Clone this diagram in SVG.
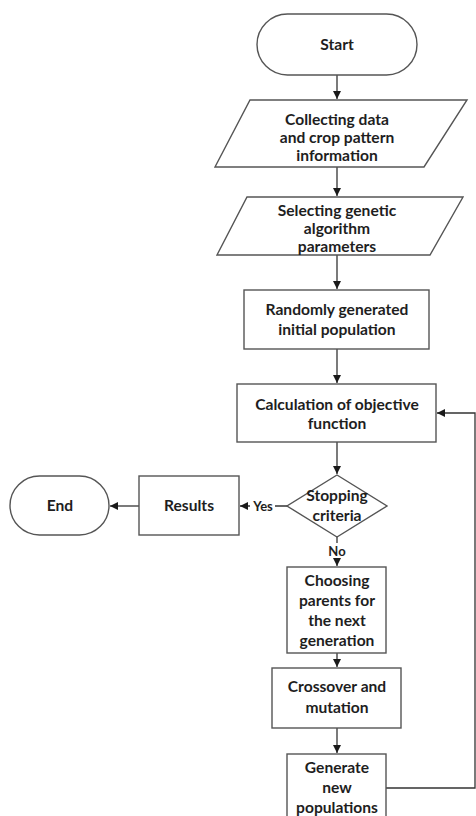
<svg xmlns="http://www.w3.org/2000/svg" width="476" height="816" viewBox="0 0 476 816">
<defs>
<marker id="ah" viewBox="0 0 10 10" refX="10" refY="5" markerWidth="8" markerHeight="8" markerUnits="userSpaceOnUse" orient="auto">
<path d="M0,0 L10,5 L0,10 z" fill="#1a1a1a"/>
</marker>
<style>
.s{fill:#fff;stroke:#555;stroke-width:1.4}
.t{font-family:Lato,"Open Sans","Liberation Sans",sans-serif;font-weight:bold;font-size:15.6px;fill:#1e1e1e;text-anchor:middle}
.l{font-family:Lato,"Open Sans","Liberation Sans",sans-serif;font-weight:bold;font-size:13px;fill:#1e1e1e;text-anchor:middle}
.c{fill:none;stroke:#333;stroke-width:1.3}
</style>
</defs>
<rect width="476" height="816" fill="#fff"/>
<g id="connectors">
<line class="c" x1="337" y1="75" x2="337" y2="99" marker-end="url(#ah)"/>
<line class="c" x1="337" y1="167" x2="337" y2="196" marker-end="url(#ah)"/>
<line class="c" x1="337" y1="255" x2="337" y2="289" marker-end="url(#ah)"/>
<line class="c" x1="337" y1="349" x2="337" y2="383" marker-end="url(#ah)"/>
<line class="c" x1="337" y1="442" x2="337" y2="474" marker-end="url(#ah)"/>
<line class="c" x1="287" y1="506" x2="240" y2="506" marker-end="url(#ah)"/>
<line class="c" x1="139" y1="506" x2="110" y2="506" marker-end="url(#ah)"/>
<line class="c" x1="337" y1="537" x2="337" y2="566" marker-end="url(#ah)"/>
<line class="c" x1="337" y1="653" x2="337" y2="667" marker-end="url(#ah)"/>
<line class="c" x1="337" y1="728" x2="337" y2="753" marker-end="url(#ah)"/>
<polyline class="c" points="386,788 475,788 475,413 437,413" marker-end="url(#ah)"/>
<rect x="250" y="498" width="25" height="15" fill="#fff"/>
<text class="l" x="263" y="511">Yes</text>
<rect x="326" y="543" width="22" height="15" fill="#fff"/>
<text class="l" x="337" y="556">No</text>
</g>
<g id="start">
<rect class="s" x="257" y="14" width="160" height="61" rx="30.5"/>
<text class="t" x="337" y="50">Start</text>
</g>
<g id="collect">
<polygon class="s" points="250,100 467,100 424,167 215,167"/>
<text class="t" x="337" y="125">Collecting data</text>
<text class="t" x="337" y="143">and crop pattern</text>
<text class="t" x="337" y="161">information</text>
</g>
<g id="select">
<polygon class="s" points="247,197 463,197 430,255 217,255"/>
<text class="t" x="337" y="216">Selecting genetic</text>
<text class="t" x="337" y="234">algorithm</text>
<text class="t" x="337" y="252">parameters</text>
</g>
<g id="random">
<rect class="s" x="244" y="290" width="185" height="59"/>
<text class="t" x="337" y="315">Randomly generated</text>
<text class="t" x="337" y="335">initial population</text>
</g>
<g id="calc">
<rect class="s" x="237" y="384" width="199" height="58"/>
<text class="t" x="337" y="410">Calculation of objective</text>
<text class="t" x="337" y="429">function</text>
</g>
<g id="stop">
<polygon class="s" points="337,475 387,506 337,537 287,506"/>
<text class="t" x="337" y="501">Stopping</text>
<text class="t" x="337" y="521">criteria</text>
</g>
<g id="results">
<rect class="s" x="139" y="476" width="100" height="59"/>
<text class="t" x="189" y="511">Results</text>
</g>
<g id="end">
<rect class="s" x="10" y="476" width="99" height="59" rx="29.5"/>
<text class="t" x="60" y="511">End</text>
</g>
<g id="choose">
<rect class="s" x="287" y="567" width="99" height="86"/>
<text class="t" x="337" y="586">Choosing</text>
<text class="t" x="337" y="606">parents for</text>
<text class="t" x="337" y="626">the next</text>
<text class="t" x="337" y="646">generation</text>
</g>
<g id="cross">
<rect class="s" x="272" y="668" width="129" height="60"/>
<text class="t" x="337" y="692">Crossover and</text>
<text class="t" x="337" y="713">mutation</text>
</g>
<g id="generate">
<rect class="s" x="287" y="754" width="99" height="70"/>
<text class="t" x="337" y="773">Generate</text>
<text class="t" x="337" y="793">new</text>
<text class="t" x="337" y="813">populations</text>
</g>
</svg>
